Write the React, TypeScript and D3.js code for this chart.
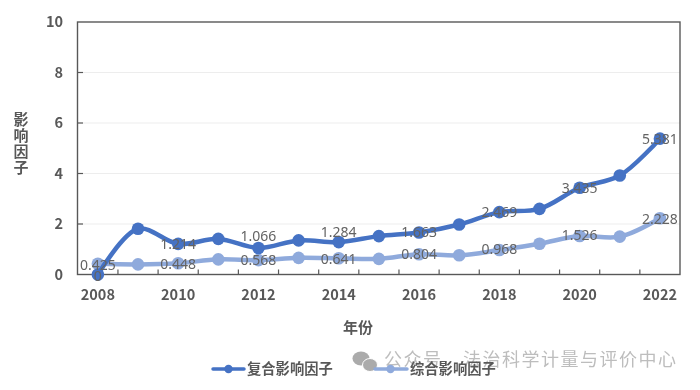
import React from "react";
import * as d3 from "d3";

const years = ["2008","2009","2010","2011","2012","2013","2014","2015","2016","2017","2018","2019","2020","2021","2022"];
const composite = [0,1.81,1.214,1.41,1.05,1.35,1.284,1.52,1.663,1.98,2.469,2.6,3.435,3.92,5.381];
const comprehensive = [0.425,0.4,0.448,0.6,0.568,0.66,0.641,0.62,0.804,0.76,0.968,1.22,1.526,1.5,2.228];
const yTicks = [0,2,4,6,8,10];
const xLabels = ["2008","2010","2012","2014","2016","2018","2020","2022"];
const compositeLabels: [string,string,number][] = [["2008","0",1],["2010","1.214",0],["2012","1.066",-12],["2014","1.284",-10],["2016","1.663",-1],["2018","2.469",0],["2020","3.435",0],["2022","5.381",0]];
const comprehensiveLabels: [string,string,number][] = [["2008","0.425",1],["2010","0.448",1],["2012","0.568",0],["2014","0.641",1],["2016","0.804",0],["2018","0.968",-1],["2020","1.526",-1],["2022","2.228",1]];
const seriesNames = ["复合影响因子","综合影响因子"];
const colors = ["#4472C4","#8FAADC"];

const W=700,H=390;
const font = "'Noto Sans CJK SC','Noto Sans',sans-serif";
const x = d3.scaleBand<string>().domain(years).range([77.8,680]);
const cx = (d:string)=> (x(d) as number)+x.bandwidth()/2;
const y = d3.scaleLinear().domain([0,10]).range([274.5,22]);
const line = d3.line<number>().x((_,i)=>cx(years[i])).y(d=>y(d)).curve(d3.curveCatmullRom.alpha(0.5));
const lab = "#595959";
const dataLab = "#636363";

export default function App(){
  const boundaries = years.slice(1).map(d=>x(d) as number);
  return (
    <svg width={W} height={H} style={{position:"fixed",left:0,top:0,background:"#fff"}} fontFamily={font}>
      <g filter="url(#soft)">
      <defs><filter id="soft" x="0" y="0" width="1" height="1"><feGaussianBlur stdDeviation="0.35"/></filter></defs>
      <rect width={W} height={H} fill="#fff"/>
      {yTicks.slice(1,-1).map(t=><line key={t} x1={78} x2={680} y1={y(t)} y2={y(t)} stroke="#EDEDED" strokeWidth={1.2}/>)}
      <rect x={77.5} y={22} width={602.5} height={252.5} fill="none" stroke="#595959" strokeWidth={1.4}/>
      {yTicks.slice(1,-1).map(t=><line key={t} x1={78} x2={83} y1={y(t)} y2={y(t)} stroke="#595959" strokeWidth={1.2}/>)}
      {boundaries.map((b,i)=><line key={i} x1={b} x2={b} y1={274.5} y2={269.5} stroke="#595959" strokeWidth={1.2}/>)}
      {yTicks.map(t=><text key={t} x={63} y={y(t)} dy="0.36em" textAnchor="end" fontSize={14.5} fontWeight={700} fill={lab}>{t}</text>)}
      {xLabels.map(d=><text key={d} x={cx(d)} y={300} textAnchor="middle" fontSize={14.5} fontWeight={700} fill={lab}>{d}</text>)}
      {[...seriesNames[0].slice(2)].map((c,i)=><text key={i} x={21} y={112+i*16+7+6} textAnchor="middle" fontSize={15} fontWeight={700} fill={lab}>{c}</text>)}
      <text x={358} y={333} textAnchor="middle" fontSize={15} fontWeight={700} fill={lab}>年份</text>

      <path d={line(comprehensive)||""} fill="none" stroke={colors[1]} strokeWidth={4.5} strokeLinecap="round"/>
      {comprehensive.map((v,i)=><circle key={i} cx={cx(years[i])} cy={y(v)} r={6.3} fill={colors[1]}/>)}
      <path d={line(composite)||""} fill="none" stroke={colors[0]} strokeWidth={4.5} strokeLinecap="round"/>
      {composite.map((v,i)=><circle key={i} cx={cx(years[i])} cy={y(v)} r={6.3} fill={colors[0]}/>)}

      {compositeLabels.map(([d,t,o])=><text key={d} x={cx(d)} y={y(composite[years.indexOf(d)])+o} dy="0.36em" textAnchor="middle" fontSize={14} fill={dataLab} fontFamily="'Noto Sans',sans-serif">{t}</text>)}
      {comprehensiveLabels.map(([d,t,o])=><text key={d} x={cx(d)} y={y(comprehensive[years.indexOf(d)])+o} dy="0.36em" textAnchor="middle" fontSize={14} fill={dataLab} fontFamily="'Noto Sans',sans-serif">{t}</text>)}

      {/* watermark */}
      <g fill="#ABABAB">
        <ellipse cx={361} cy={358.5} rx={8.5} ry={7}/>
        <ellipse cx={370} cy={365} rx={7.5} ry={6.5} stroke="#fff" strokeWidth={1}/>
      </g>
      <text x={384} y={366} fontSize={18} fill="#BDBDBD" letterSpacing={1.5}>公众号</text>
      <text x={463} y={366} fontSize={18} fill="#BDBDBD" letterSpacing={1.5}>法治科学计量与评价中心</text>

      {/* legend */}
      <line x1={213} x2={244} y1={369} y2={369} stroke={colors[0]} strokeWidth={3.5} strokeLinecap="round"/>
      <circle cx={228.5} cy={369} r={4.2} fill={colors[0]}/>
      <text x={247} y={374} fontSize={14.3} fontWeight={700} fill={lab}>{seriesNames[0]}</text>
      <line x1={375} x2={407} y1={369} y2={369} stroke={colors[1]} strokeWidth={3.5} strokeLinecap="round"/>
      <circle cx={390.5} cy={369} r={4.2} fill={colors[1]}/>
      <text x={410} y={374} fontSize={14.3} fontWeight={700} fill={lab}>{seriesNames[1]}</text>
      </g>
    </svg>
  );
}
